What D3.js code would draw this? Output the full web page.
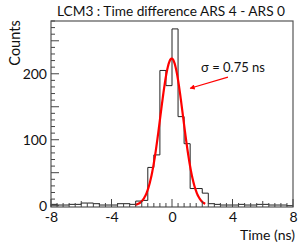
<!DOCTYPE html>
<html>
<head>
<meta charset="utf-8">
<script src="https://cdn.jsdelivr.net/npm/d3@7"></script>
<style>
  html, body { margin: 0; padding: 0; background: #fff; }
  svg { display: block; }
  text { font-family: Lato, "Open Sans", "Liberation Sans", sans-serif; fill: #111; }
</style>
</head>
<body>
<svg id="chart" width="299" height="246"></svg>
<script>
// ---- data ----
const titleText = "LCM3 : Time difference ARS 4 - ARS 0";
const xLabel = "Time (ns)";
const yLabel = "Counts";
const binStart = -8;
const binWidth = 0.4;
const binCounts = [
  2, 1, 1, 2, 2, 4, 4, 3, 1, 1, 1, 3, 3, 2,     // -8.0 .. -2.4
  7, 8, 58, 77, 205, 182, 268, 135, 94, 26, 26, 19, 3, // -2.4 .. 2.8
  2, 1, 1, 1, 2, 1, 1, 2, 2, 1, 1, 1, 0          // 2.8 .. 8.0
];
const xTickValues = [-8, -4, 0, 4, 8];
const yTickValues = [0, 100, 200];
const fitAmplitude = 223;
const fitMean = -0.02;
const fitSigma = 0.75;
const fitRange = [-2.45, 2.2];
const annotationText = "σ = 0.75 ns";

// ---- layout ----
const svg = d3.select("#chart");
const frame = { left: 51, right: 293, top: 21, bottom: 207 };
const x = d3.scaleLinear().domain([-8, 8]).range([frame.left, frame.right]);
const y = d3.scaleLinear().domain([-2, 280]).range([frame.bottom, frame.top]);

// title
svg.append("text")
  .attr("x", 171).attr("y", 16)
  .attr("text-anchor", "middle")
  .attr("font-size", 13.5)
  .attr("textLength", 228).attr("lengthAdjust", "spacingAndGlyphs")
  .text(titleText);

// histogram step outline
const pts = [[binStart, 0]];
binCounts.forEach((c, i) => { pts.push([binStart + i * binWidth, c]); });
pts.push([binStart + binCounts.length * binWidth, binCounts[binCounts.length - 1]]);
pts.push([binStart + binCounts.length * binWidth, 0]);
const stepLine = d3.line().x(d => x(d[0])).y(d => y(d[1])).curve(d3.curveStepAfter);
svg.append("path")
  .attr("d", stepLine(pts))
  .attr("fill", "none").attr("stroke", "#222").attr("stroke-width", 1);

// gaussian fit
const fitPts = d3.range(0, 201).map(i => {
  const t = fitRange[0] + (fitRange[1] - fitRange[0]) * i / 200;
  return [t, fitAmplitude * Math.exp(-((t - fitMean) ** 2) / (2 * fitSigma * fitSigma))];
});
svg.append("path")
  .attr("d", d3.line().x(d => x(d[0])).y(d => y(d[1])).curve(d3.curveBasis)(fitPts))
  .attr("fill", "none").attr("stroke", "#ff0000").attr("stroke-width", 2.2);

// frame
svg.append("rect")
  .attr("x", frame.left).attr("y", frame.top)
  .attr("width", frame.right - frame.left).attr("height", frame.bottom - frame.top)
  .attr("fill", "none").attr("stroke", "#555").attr("stroke-width", 1.2);

// y-axis ticks (inside)
const yMinor = d3.range(0, 281, 10);
const gy = svg.append("g").attr("transform", `translate(${frame.left},0)`);
gy.selectAll("line").data(yMinor).join("line")
  .attr("x1", 0).attr("x2", d => (d % 50 === 0 ? 8 : 4))
  .attr("y1", d => y(d)).attr("y2", d => y(d))
  .attr("stroke", "#444").attr("stroke-width", 1);
svg.append("g").attr("transform", `translate(${frame.left - 4},0)`)
  .call(d3.axisLeft(y).tickValues(yTickValues).tickSize(0).tickPadding(0))
  .call(g => g.select(".domain").remove())
  .call(g => g.selectAll("text").attr("font-size", 14).attr("font-family", "Lato, 'Open Sans', sans-serif").attr("fill", "#111"));

// x-axis ticks (inside, pointing up)
const xMinor = d3.range(0, 41).map(i => -8 + i * 0.4);
svg.append("g").selectAll("line").data(xMinor).join("line")
  .attr("x1", d => x(d)).attr("x2", d => x(d))
  .attr("y1", frame.bottom)
  .attr("y2", (d, i) => frame.bottom - (i % 10 === 0 ? 8 : (i % 5 === 0 ? 6 : 4)))
  .attr("stroke", "#444").attr("stroke-width", 1);
svg.append("g").attr("transform", `translate(0,${frame.bottom + 5})`)
  .call(d3.axisBottom(x).tickValues(xTickValues).tickSize(0).tickPadding(0).tickFormat(d => d < 0 ? "-" + Math.abs(d) : String(d)))
  .call(g => g.select(".domain").remove())
  .call(g => g.selectAll("text").attr("font-size", 14).attr("font-family", "Lato, 'Open Sans', sans-serif").attr("fill", "#111"));

// axis titles
svg.append("text")
  .attr("x", 295).attr("y", 240)
  .attr("text-anchor", "end").attr("font-size", 14)
  .text(xLabel);
svg.append("text")
  .attr("transform", "translate(20,43) rotate(-90)")
  .attr("text-anchor", "middle").attr("font-size", 14.5)
  .text(yLabel);

// annotation
svg.append("defs").append("marker")
  .attr("id", "ah").attr("viewBox", "0 0 10 10")
  .attr("refX", 9).attr("refY", 5)
  .attr("markerWidth", 8).attr("markerHeight", 5)
  .attr("markerUnits", "userSpaceOnUse")
  .attr("orient", "auto")
  .append("path").attr("d", "M0,0 L10,5 L0,10 z").attr("fill", "#ff0000");
svg.append("text")
  .attr("x", 233).attr("y", 72)
  .attr("text-anchor", "middle").attr("font-size", 13)
  .text(annotationText);
svg.append("line")
  .attr("x1", x(3.7)).attr("y1", y(195))
  .attr("x2", x(1.2)).attr("y2", y(178))
  .attr("stroke", "#ff0000").attr("stroke-width", 1.2)
  .attr("marker-end", "url(#ah)");
</script>
</body>
</html>
